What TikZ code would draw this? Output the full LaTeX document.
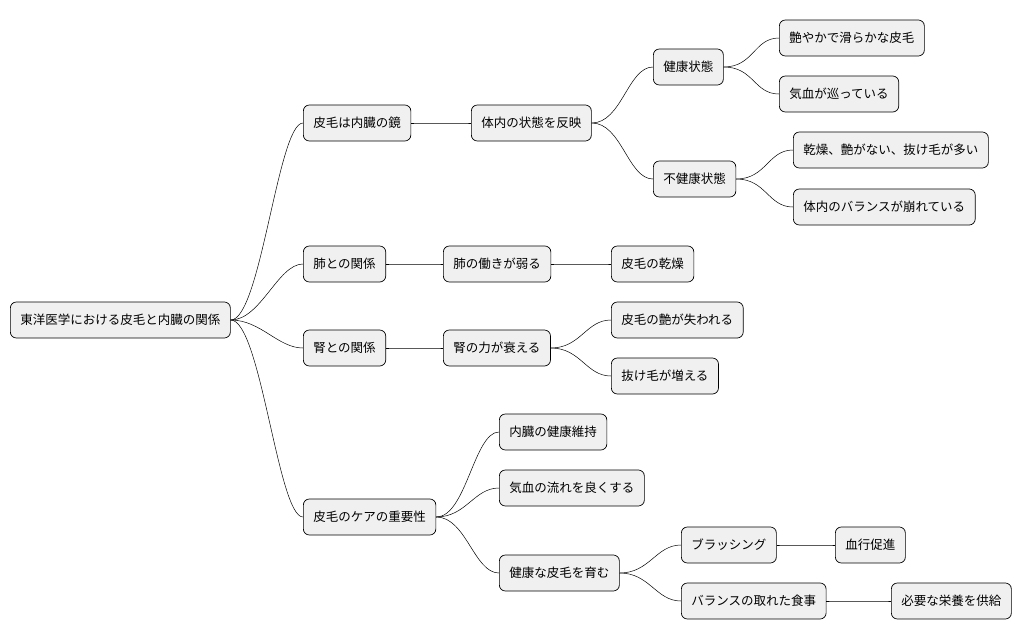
\documentclass[tikz,border=0pt]{standalone}
\usepackage{fontspec}
\setmainfont{Noto Sans CJK JP}
\usetikzlibrary{positioning}
\tikzset{
  topic/.style={draw=black, fill=gray!12, rounded corners=6pt, line width=0.7pt,
    minimum height=36pt, inner xsep=10pt, anchor=west, font=\fontsize{12.5}{14}\selectfont},
  branch/.style={line width=0.5pt}
}
\begin{document}
\begin{tikzpicture}[x=1pt,y=-1pt]
  \useasboundingbox (0,0) rectangle (1034,640);

  % root and first level
  \node[topic] (root) at (10,320) {東洋医学における皮毛と内臓の関係};
  \node[topic] (mirror) at (303,123) {皮毛は内臓の鏡};
  \node[topic] (lung) at (303,264) {肺との関係};
  \node[topic] (kidney) at (303,348) {腎との関係};
  \node[topic] (care) at (303,517) {皮毛のケアの重要性};

  % second level
  \node[topic] (reflect) at (471,123) {体内の状態を反映};
  \node[topic] (lungweak) at (443,264) {肺の働きが弱る};
  \node[topic] (kidweak) at (443,348) {腎の力が衰える};
  \node[topic] (organs) at (499,432) {内臓の健康維持};
  \node[topic] (flow) at (499,488) {気血の流れを良くする};
  \node[topic] (grow) at (499,573) {健康な皮毛を育む};

  % third level
  \node[topic] (healthy) at (653,67) {健康状態};
  \node[topic] (unhealthy) at (653,179) {不健康状態};
  \node[topic] (dry) at (611,264) {皮毛の乾燥};
  \node[topic] (dull) at (611,320) {皮毛の艶が失われる};
  \node[topic] (loss) at (611,376) {抜け毛が増える};
  \node[topic] (brush) at (681,545) {ブラッシング};
  \node[topic] (meal) at (681,601) {バランスの取れた食事};

  % fourth level
  \node[topic] (glossy) at (779,38) {艶やかで滑らかな皮毛};
  \node[topic] (qiblood) at (779,94) {気血が巡っている};
  \node[topic] (drydull) at (793,150) {乾燥、艶がない、抜け毛が多い};
  \node[topic] (imbal) at (793,207) {体内のバランスが崩れている};
  \node[topic] (circ) at (835,545) {血行促進};
  \node[topic] (nutri) at (891,601) {必要な栄養を供給};

  % connectors
  \foreach \p/\c in {root/mirror, root/lung, root/kidney, root/care,
      mirror/reflect, lung/lungweak, kidney/kidweak,
      care/organs, care/flow, care/grow,
      reflect/healthy, reflect/unhealthy, lungweak/dry,
      kidweak/dull, kidweak/loss, grow/brush, grow/meal,
      healthy/glossy, healthy/qiblood, unhealthy/drydull, unhealthy/imbal,
      brush/circ, meal/nutri}
    \draw[branch] (\p.east) .. controls +(30,0) and +(-25,0) .. (\c.west);
\end{tikzpicture}
\end{document}
